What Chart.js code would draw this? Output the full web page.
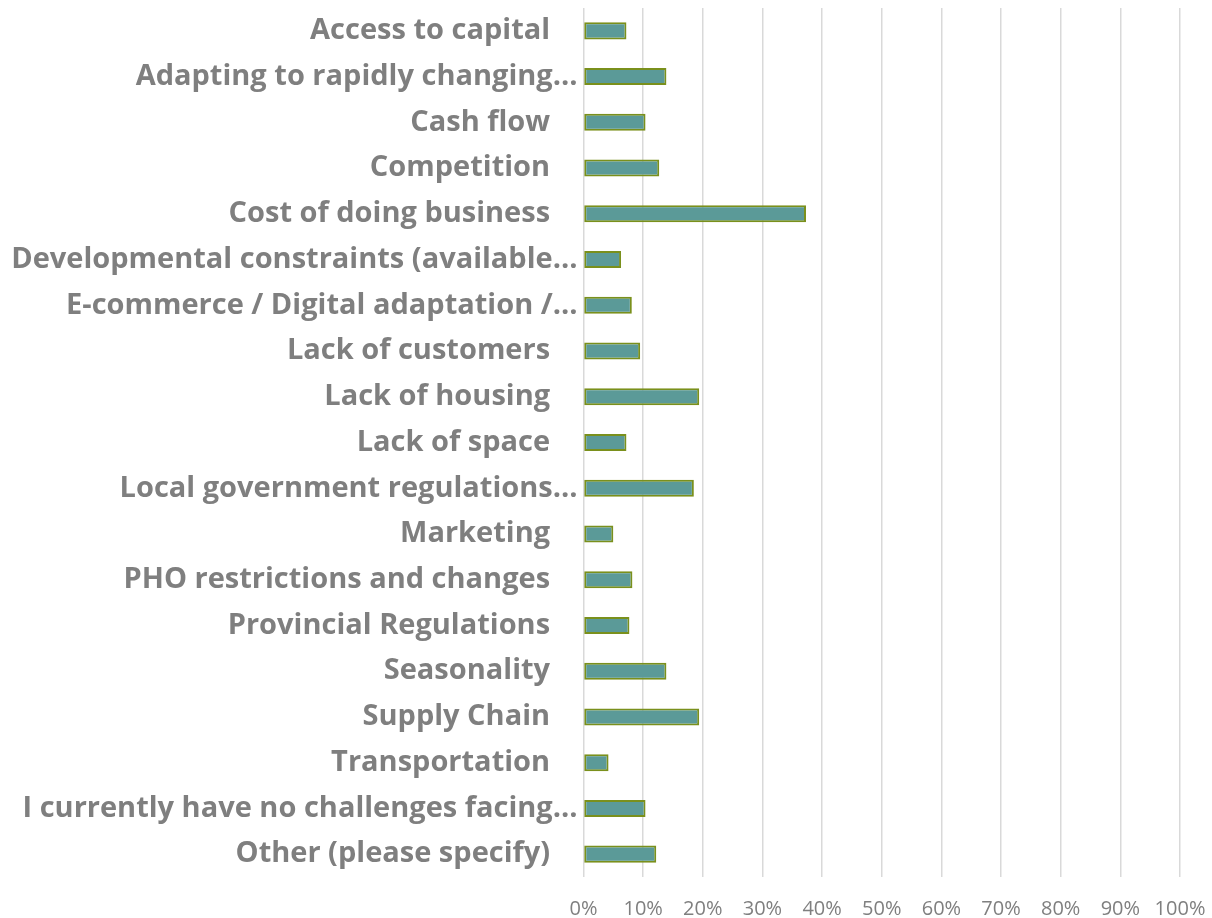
<!DOCTYPE html>
<html>
<head>
<meta charset="utf-8">
<script src="https://cdn.jsdelivr.net/npm/chart.js@4.4.1/dist/chart.umd.min.js"></script>
<style>
  html, body { margin: 0; padding: 0; background: #fff; }
  canvas { display: block; }
</style>
</head>
<body>
<canvas id="challengesChart" width="1212" height="918"></canvas>
<script>
const categories = [
    'Access to capital',
    'Adapting to rapidly changing…',
    'Cash flow',
    'Competition',
    'Cost of doing business',
    'Developmental constraints (available…',
    'E-commerce / Digital adaptation /…',
    'Lack of customers',
    'Lack of housing',
    'Lack of space',
    'Local government regulations…',
    'Marketing',
    'PHO restrictions and changes',
    'Provincial Regulations',
    'Seasonality',
    'Supply Chain',
    'Transportation',
    'I currently have no challenges facing…',
    'Other (please specify)'
];

// share of respondents, in percent
const shares = [7.2, 13.9, 10.4, 12.7, 37.3, 6.3, 8.1, 9.5, 19.4, 7.2, 18.5, 5.0, 8.2, 7.7, 13.9, 19.4, 4.2, 10.4, 12.2];

const xTicks = [0, 10, 20, 30, 40, 50, 60, 70, 80, 90, 100];

// drop the automatic label overhang padding so the plot area sits where we put it
function noPadding(scale) {
    scale.paddingTop = 0;
    scale.paddingBottom = 0;
    scale.paddingLeft = 0;
    scale.paddingRight = 0;
}

function drawChart() {
    const ctx = document.getElementById('challengesChart').getContext('2d');

    new Chart(ctx, {
        type: 'bar',
        data: {
            labels: categories,
            datasets: [{
                data: shares,
                backgroundColor: '#5b9a98',
                borderColor: '#7a901c',
                borderWidth: 2,
                borderSkipped: false,
                barPercentage: 0.372,
                categoryPercentage: 1
            }]
        },
        options: {
            indexAxis: 'y',
            responsive: false,
            animation: false,
            layout: {
                padding: { top: 8, right: 32, left: 0, bottom: 0 }
            },
            plugins: {
                legend: { display: false },
                tooltip: { enabled: false }
            },
            scales: {
                x: {
                    min: 0,
                    max: 100,
                    afterBuildTicks: function(scale) {
                        scale.ticks = xTicks.map(v => ({ value: v }));
                    },
                    afterFit: function(scale) {
                        scale.height = 41;
                        noPadding(scale);
                    },
                    grid: {
                        color: '#d9d9d9',
                        lineWidth: 1.5,
                        drawTicks: false
                    },
                    border: { display: false },
                    ticks: {
                        color: '#7f7f7f',
                        padding: 20,
                        maxRotation: 0,
                        font: { family: 'Open Sans', size: 20 },
                        callback: function(value) {
                            return value + '%';
                        }
                    }
                },
                y: {
                    afterFit: function(scale) {
                        scale.width = 583.5;
                        noPadding(scale);
                    },
                    grid: { display: false, drawTicks: false },
                    border: { display: false },
                    ticks: {
                        color: '#7f7f7f',
                        padding: 6,
                        autoSkip: false,
                        font: { family: 'Open Sans', size: 29, weight: 'bold' },
                        callback: function(value) {
                            const label = this.getLabelForValue(value);
                            // full labels keep a gap before the axis, cut ones run up to it
                            return label.endsWith('…') ? label : label + '   \u2009';
                        }
                    }
                }
            }
        }
    });
}

Promise.all([
    document.fonts.load('bold 29px "Open Sans"'),
    document.fonts.load('20px "Open Sans"')
]).then(drawChart, drawChart);
</script>
</body>
</html>
